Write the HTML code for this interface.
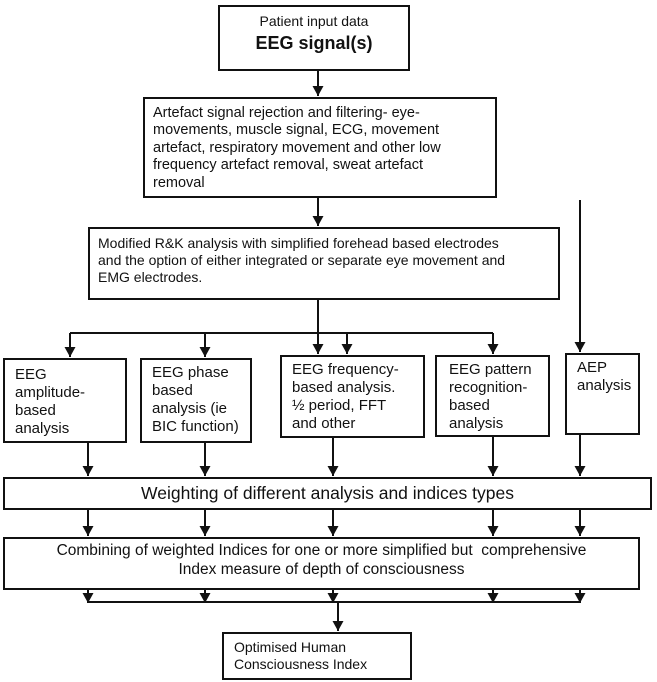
<!DOCTYPE html>
<html><head><meta charset="utf-8"><style>
body{margin:0;width:657px;height:682px;background:#fff;position:relative;overflow:hidden;font-family:"Liberation Sans",Arial,sans-serif;color:#111}
.b{position:absolute;border:2px solid #111;box-sizing:border-box;background:#fff;line-height:1.2;white-space:nowrap}
svg{position:absolute;left:0;top:0}
</style></head><body>
<svg width="657" height="682" viewBox="0 0 657 682">
<defs><marker id="a" markerWidth="12" markerHeight="12" refX="10" refY="5.5" orient="auto" markerUnits="userSpaceOnUse"><path d="M0,0 L10,5.5 L0,11 Z" fill="#111"/></marker></defs>
<g stroke="#111" stroke-width="2" fill="none">
<line x1="318" y1="70" x2="318" y2="96" marker-end="url(#a)"/>
<line x1="318" y1="198" x2="318" y2="226" marker-end="url(#a)"/>
<line x1="70" y1="333" x2="493" y2="333"/>
<line x1="70" y1="333" x2="70" y2="357" marker-end="url(#a)"/>
<line x1="205" y1="333" x2="205" y2="357" marker-end="url(#a)"/>
<line x1="318" y1="300" x2="318" y2="354" marker-end="url(#a)"/>
<line x1="347" y1="333" x2="347" y2="354" marker-end="url(#a)"/>
<line x1="493" y1="333" x2="493" y2="354" marker-end="url(#a)"/>
<line x1="580" y1="200" x2="580" y2="352" marker-end="url(#a)"/>
<line x1="88" y1="443" x2="88" y2="476" marker-end="url(#a)"/>
<line x1="205" y1="443" x2="205" y2="476" marker-end="url(#a)"/>
<line x1="333" y1="438" x2="333" y2="476" marker-end="url(#a)"/>
<line x1="493" y1="437" x2="493" y2="476" marker-end="url(#a)"/>
<line x1="580" y1="435" x2="580" y2="476" marker-end="url(#a)"/>
<line x1="88" y1="510" x2="88" y2="536" marker-end="url(#a)"/>
<line x1="205" y1="510" x2="205" y2="536" marker-end="url(#a)"/>
<line x1="333" y1="510" x2="333" y2="536" marker-end="url(#a)"/>
<line x1="493" y1="510" x2="493" y2="536" marker-end="url(#a)"/>
<line x1="580" y1="510" x2="580" y2="536" marker-end="url(#a)"/>
<line x1="88" y1="590" x2="88" y2="603" marker-end="url(#a)"/>
<line x1="205" y1="590" x2="205" y2="603" marker-end="url(#a)"/>
<line x1="333" y1="590" x2="333" y2="603" marker-end="url(#a)"/>
<line x1="493" y1="590" x2="493" y2="603" marker-end="url(#a)"/>
<line x1="580" y1="590" x2="580" y2="603" marker-end="url(#a)"/>
<line x1="88" y1="602" x2="580" y2="602"/>
<line x1="338" y1="602" x2="338" y2="631" marker-end="url(#a)"/>
</g></svg>
<div class="b" style="left:218px;top:5px;width:192px;height:66px;text-align:center;padding-top:6px;font-size:14px">Patient input data<br><b style="font-size:18px;line-height:26px">EEG signal(s)</b></div>
<div class="b" style="left:143px;top:97px;width:354px;height:101px;padding:6px 8px;font-size:14.5px">Artefact signal rejection and filtering- eye-<br>movements, muscle signal, ECG, movement<br>artefact, respiratory movement and other low<br>frequency artefact removal, sweat artefact<br>removal</div>
<div class="b" style="left:88px;top:227px;width:472px;height:73px;padding:6px 8px;font-size:14px">Modified R&amp;K analysis with simplified forehead based electrodes<br>and the option of either integrated or separate eye movement and<br>EMG electrodes.</div>
<div class="b" style="left:3px;top:358px;width:124px;height:85px;padding:6px 10px;font-size:15px">EEG<br>amplitude-<br>based<br>analysis</div>
<div class="b" style="left:140px;top:358px;width:112px;height:85px;padding:4px 10px;font-size:15px">EEG phase<br>based<br>analysis (ie<br>BIC function)</div>
<div class="b" style="left:280px;top:355px;width:145px;height:83px;padding:4px 10px;font-size:15px">EEG frequency-<br>based analysis.<br>½ period, FFT<br>and other</div>
<div class="b" style="left:435px;top:355px;width:115px;height:82px;padding:4px 12px;font-size:15px">EEG pattern<br>recognition-<br>based<br>analysis</div>
<div class="b" style="left:565px;top:353px;width:75px;height:82px;padding:4px 10px;font-size:15px">AEP<br>analysis</div>
<div class="b" style="left:3px;top:477px;width:649px;height:33px;text-align:center;font-size:17.5px;line-height:29px">Weighting of different analysis and indices types</div>
<div class="b" style="left:3px;top:537px;width:637px;height:53px;text-align:center;font-size:15.5px;padding-top:3px">Combining of weighted Indices for one or more simplified but &nbsp;comprehensive<br>Index measure of depth of consciousness</div>
<div class="b" style="left:222px;top:632px;width:190px;height:48px;padding:5px 10px;font-size:14px">Optimised Human<br>Consciousness Index</div>
</body></html>
